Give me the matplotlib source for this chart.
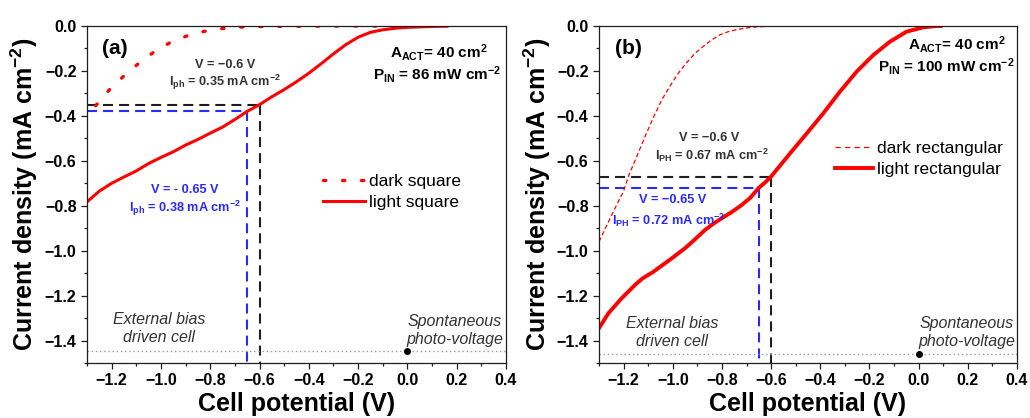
import matplotlib
matplotlib.use("Agg")
import matplotlib.pyplot as plt
from matplotlib.ticker import MultipleLocator

plt.rcParams["font.family"] = ["Liberation Sans", "DejaVu Sans"]
plt.rcParams["mathtext.fontset"] = "custom"
plt.rcParams["mathtext.rm"] = "Liberation Sans:bold"
plt.rcParams["mathtext.bf"] = "Liberation Sans:bold"
plt.rcParams["mathtext.it"] = "Liberation Sans:bold"
plt.rcParams["mathtext.default"] = "bf"

# ---- panel (a): square cell ----
light_sq_v = [-1.30, -1.25, -1.20, -1.15, -1.10, -1.05, -1.00, -0.95, -0.90, -0.85,
              -0.80, -0.75, -0.70, -0.65, -0.60, -0.55, -0.50, -0.45, -0.40, -0.35,
              -0.30, -0.25, -0.20, -0.15, -0.10, -0.05, 0.00, 0.05, 0.10, 0.16]
light_sq_j = [-0.783, -0.735, -0.700, -0.672, -0.645, -0.612, -0.585, -0.560, -0.530, -0.505,
              -0.477, -0.450, -0.416, -0.380, -0.350, -0.315, -0.283, -0.248, -0.210, -0.168,
              -0.124, -0.083, -0.050, -0.028, -0.017, -0.010, -0.006, -0.004, -0.002, -0.001]
dark_sq_v = [-1.265, -1.21, -1.15, -1.09, -1.03, -0.96, -0.88, -0.80, -0.72, -0.64,
             -0.50, -0.30, -0.10, 0.10, 0.16]
dark_sq_j = [-0.355, -0.285, -0.222, -0.166, -0.117, -0.072, -0.038, -0.018, -0.007, -0.003,
             -0.001, 0.0, 0.0, 0.0, 0.0]

# ---- panel (b): rectangular cell ----
light_rect_v = [-1.300, -1.262, -1.208, -1.154, -1.125, -1.100, -1.080, -1.059, -1.030, -1.004,
                -0.950, -0.910, -0.869, -0.835, -0.801, -0.760, -0.720, -0.685, -0.650, -0.625,
                -0.600, -0.523, -0.455, -0.388, -0.320, -0.252, -0.184, -0.117, -0.049, 0.019,
                0.073, 0.090]
light_rect_j = [-1.345, -1.279, -1.212, -1.153, -1.125, -1.108, -1.095, -1.078, -1.055, -1.034,
                -0.989, -0.950, -0.908, -0.880, -0.856, -0.828, -0.797, -0.765, -0.720, -0.697,
                -0.670, -0.567, -0.478, -0.389, -0.292, -0.203, -0.129, -0.070, -0.025, -0.006,
                0.0, 0.0]
dark_rect_v = [-1.300, -1.250, -1.200, -1.180, -1.150, -1.110, -1.080, -1.045, -1.010, -0.978,
               -0.945, -0.910, -0.875, -0.842, -0.810, -0.774, -0.740, -0.706, -0.665, -0.600,
               -0.400, 0.100]
dark_rect_j = [-0.960, -0.845, -0.735, -0.668, -0.590, -0.485, -0.410, -0.329, -0.265, -0.211,
               -0.165, -0.122, -0.090, -0.062, -0.040, -0.025, -0.016, -0.010, -0.004, -0.001,
               0.0, 0.0]

# operating points: (bias V, photocurrent mA cm-2)
op_black_a = (-0.60, 0.35)
op_blue_a = (-0.65, 0.38)
op_black_b = (-0.60, 0.67)
op_blue_b = (-0.65, 0.72)
baseline_a = -1.445
baseline_b = -1.46

xticks = [-1.2, -1.0, -0.8, -0.6, -0.4, -0.2, 0.0, 0.2, 0.4]
yticks = [0.0, -0.2, -0.4, -0.6, -0.8, -1.0, -1.2, -1.4]

RED = "#ff0000"
BLUE = "#2a2aff"
DARK = "#1e1e1e"
GRAY_TXT = "#333333"
ANN = 9.2

fig = plt.figure(figsize=(10.3, 4.18), dpi=100)
ax_a = fig.add_axes([87 / 1030, 55 / 418, 419 / 1030, 337 / 418])
ax_b = fig.add_axes([599 / 1030, 55 / 418, 418 / 1030, 337 / 418])


def style_axes(ax, ylab_x):
    ax.set_xlim(-1.3, 0.4)
    ax.set_ylim(-1.5, 0.0)
    ax.set_xticks(xticks)
    ax.set_yticks(yticks)
    ax.xaxis.set_minor_locator(MultipleLocator(0.1))
    ax.yaxis.set_minor_locator(MultipleLocator(0.1))
    ax.tick_params(which="major", direction="out", length=4, width=0.9,
                   labelsize=11.5, pad=3.5, color=DARK)
    ax.tick_params(which="minor", direction="out", length=2.3, width=0.9, color=DARK)
    for lab in ax.get_xticklabels() + ax.get_yticklabels():
        lab.set_fontweight("bold")
    for sp in ax.spines.values():
        sp.set_color(DARK)
        sp.set_linewidth(0.9)
    ax.set_xlabel("Cell potential (V)", fontsize=18, fontweight="bold")
    ax.set_ylabel("Current density (mA cm$^{-2}$)", fontsize=18, fontweight="bold")
    ax.xaxis.set_label_coords(0.5, -0.085)
    ax.yaxis.set_label_coords(ylab_x, 0.5)


def guides(ax, op_black, op_blue, base):
    vb, jb = op_black
    vu, ju = op_blue
    ax.plot([-1.3, vb], [-jb, -jb], color=DARK, lw=1.5, dashes=(4.8, 2.9), zorder=1)
    ax.plot([vb, vb], [-jb, -1.5], color=DARK, lw=1.5, dashes=(4.8, 2.9), zorder=1)
    ax.plot([-1.3, vu], [-ju, -ju], color=BLUE, lw=1.5, dashes=(4.8, 2.9), zorder=1)
    ax.plot([vu, vu], [-ju, -1.5], color=BLUE, lw=1.5, dashes=(4.8, 2.9), zorder=1)
    ax.axhline(base, color="#9a9a9a", lw=1.0, dashes=(1, 2), zorder=1)
    ax.plot([0.0], [base], "o", color="black", ms=4, zorder=3)


# ---------------- panel (a) ----------------
style_axes(ax_a, -0.112)
guides(ax_a, op_black_a, op_blue_a, baseline_a)
ax_a.plot(dark_sq_v, dark_sq_j, color=RED, lw=2.4, dashes=(0.7, 5.0),
          dash_capstyle="round", label="dark square", zorder=2)
ax_a.plot(light_sq_v, light_sq_j, color=RED, lw=2.2, label="light square", zorder=2)
ax_a.legend(loc="upper left", bbox_to_anchor=(0.563, 0.562), frameon=False,
            fontsize=12.5, handlelength=2.45, handletextpad=0.2, borderpad=0,
            borderaxespad=0, labelspacing=0.33)

ax_a.text(-1.239, -0.098, "(a)", fontsize=15, fontweight="bold", ha="left", va="center")
ax_a.text(0.128, -0.116, "A$_{ACT}$= 40 cm$^{2}$", fontsize=11, fontweight="bold",
          ha="center", va="center")
ax_a.text(0.122, -0.218, "P$_{IN}$ = 86 mW cm$^{-2}$", fontsize=11, fontweight="bold",
          ha="center", va="center")
ax_a.text(-0.74, -0.174, "V = \u22120.6 V", fontsize=ANN, fontweight="bold",
          color=GRAY_TXT, ha="center", va="center")
ax_a.text(-0.74, -0.249, f"I$_{{ph}}$ = {op_black_a[1]:.2f} mA cm$^{{-2}}$", fontsize=ANN,
          fontweight="bold", color=GRAY_TXT, ha="center", va="center")
ax_a.text(-0.902, -0.73, "V = - 0.65 V", fontsize=ANN, fontweight="bold",
          color=BLUE, ha="center", va="center")
ax_a.text(-0.902, -0.81, f"I$_{{ph}}$ = {op_blue_a[1]:.2f} mA cm$^{{-2}}$", fontsize=ANN,
          fontweight="bold", color=BLUE, ha="center", va="center")
ax_a.text(-1.008, -1.345, "External bias\ndriven cell", fontsize=11.5, style="italic",
          color=GRAY_TXT, ha="center", va="center", linespacing=1.25)
ax_a.text(0.193, -1.355, "Spontaneous\nphoto-voltage", fontsize=11.5, style="italic",
          color=GRAY_TXT, ha="center", va="center", linespacing=1.25)

# ---------------- panel (b) ----------------
style_axes(ax_b, -0.110)
guides(ax_b, op_black_b, op_blue_b, baseline_b)
ax_b.plot(dark_rect_v, dark_rect_j, color=RED, lw=0.9, dashes=(3.5, 2.2),
          label="dark rectangular", zorder=2)
ax_b.plot(light_rect_v, light_rect_j, color=RED, lw=2.8, label="light rectangular", zorder=2)
leg_b = ax_b.legend(loc="upper left", bbox_to_anchor=(0.565, 0.659), frameon=False,
                    fontsize=12.5, handlelength=2.2, handletextpad=0.2, borderpad=0,
                    borderaxespad=0, labelspacing=0.33)
leg_b.get_lines()[0].set_dashes((4.2, 3.4))

ax_b.text(-1.235, -0.098, "(b)", fontsize=15, fontweight="bold", ha="left", va="center")
ax_b.text(0.156, -0.084, "A$_{ACT}$= 40 cm$^{2}$", fontsize=11, fontweight="bold",
          ha="center", va="center")
ax_b.text(0.111, -0.182, "P$_{IN}$ = 100 mW cm$^{-2}$", fontsize=11, fontweight="bold",
          ha="center", va="center")
ax_b.text(-0.853, -0.498, "V = \u22120.6 V", fontsize=ANN, fontweight="bold",
          color=GRAY_TXT, ha="center", va="center")
ax_b.text(-0.84, -0.574, f"I$_{{PH}}$ = {op_black_b[1]:.2f} mA cm$^{{-2}}$", fontsize=ANN,
          fontweight="bold", color=GRAY_TXT, ha="center", va="center")
ax_b.text(-0.999, -0.774, "V = \u22120.65 V", fontsize=ANN, fontweight="bold",
          color=BLUE, ha="center", va="center")
ax_b.text(-1.015, -0.863, f"I$_{{PH}}$ = {op_blue_b[1]:.2f} mA cm$^{{-2}}$", fontsize=ANN,
          fontweight="bold", color=BLUE, ha="center", va="center")
ax_b.text(-1.003, -1.364, "External bias\ndriven cell", fontsize=11.5, style="italic",
          color=GRAY_TXT, ha="center", va="center", linespacing=1.25)
ax_b.text(0.197, -1.364, "Spontaneous\nphoto-voltage", fontsize=11.5, style="italic",
          color=GRAY_TXT, ha="center", va="center", linespacing=1.25)

fig.savefig("out.png", dpi=100)
